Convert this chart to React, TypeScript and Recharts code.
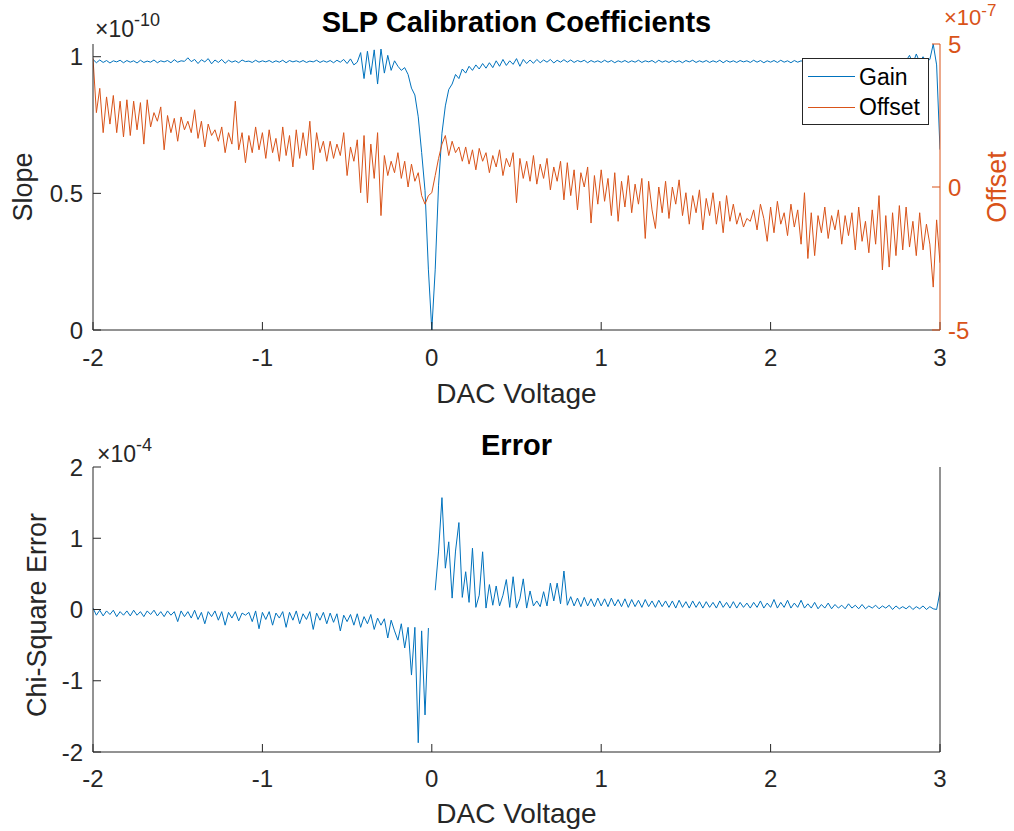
import React from 'react';
import { LineChart, Line, XAxis, YAxis } from 'recharts';

// DAC voltage sampling grid: -2 V to 3 V in 0.02 V steps (251 samples)
const VOLT_START = -2;
const VOLT_STEP = 0.02;

// Gain (slope), units of 1e-10
const gain = [
  0.99, 0.978, 0.988, 0.979, 0.986, 0.977, 0.985, 0.981, 0.987, 0.978,
  0.986, 0.98, 0.985, 0.977, 0.987, 0.979, 0.984, 0.98, 0.988, 0.978,
  0.985, 0.981, 0.986, 0.978, 0.989, 0.98, 0.985, 0.983, 0.996, 0.982,
  0.99, 0.975, 0.989, 0.981, 0.993, 0.974, 0.988, 0.979, 0.99, 0.976,
  0.987, 0.98, 0.985, 0.978, 0.988, 0.982, 0.984, 0.979, 0.987, 0.98,
  0.985, 0.981, 0.986, 0.979, 0.985, 0.98, 0.987, 0.978, 0.986, 0.981,
  0.985, 0.98, 0.986, 0.979, 0.984, 0.981, 0.987, 0.979, 0.985, 0.98,
  0.986, 0.978, 0.987, 0.98, 0.99, 0.975, 0.992, 0.97, 0.98, 1.015,
  0.92, 1.02, 0.935, 1.025, 0.9, 1.028, 0.94, 1.005, 0.95, 0.985,
  0.965, 0.95, 0.96, 0.935, 0.885, 0.86, 0.78, 0.65, 0.51, 0.22,
  0.0, 0.22, 0.53, 0.72, 0.82, 0.88, 0.9, 0.935, 0.92, 0.955,
  0.94, 0.965, 0.95, 0.97, 0.955, 0.975, 0.958, 0.978, 0.96, 0.985,
  0.965, 0.99, 0.968, 0.985, 0.972, 0.993, 0.965, 0.99, 0.975, 0.988,
  0.976, 0.99, 0.978, 0.988, 0.98, 0.99, 0.977, 0.987, 0.98, 0.989,
  0.98, 0.988, 0.979, 0.986, 0.981, 0.987, 0.978, 0.986, 0.98, 0.985,
  0.979, 0.987, 0.98, 0.986, 0.978, 0.985, 0.98, 0.986, 0.979, 0.985,
  0.98, 0.987, 0.979, 0.985, 0.981, 0.986, 0.978, 0.987, 0.98, 0.985,
  0.979, 0.986, 0.98, 0.985, 0.978, 0.986, 0.981, 0.987, 0.979, 0.985,
  0.98, 0.986, 0.979, 0.985, 0.98, 0.987, 0.978, 0.986, 0.98, 0.985,
  0.979, 0.986, 0.981, 0.985, 0.979, 0.987, 0.98, 0.986, 0.978, 0.985,
  0.98, 0.986, 0.979, 0.987, 0.98, 0.985, 0.978, 0.986, 0.98, 0.985,
  0.979, 0.986, 0.98, 0.985, 0.979, 0.987, 0.981, 0.986, 0.979, 0.985,
  0.98, 0.986, 0.978, 0.985, 0.98, 0.987, 0.979, 0.986, 0.98, 0.985,
  0.979, 0.987, 0.98, 0.986, 0.978, 0.985, 0.98, 0.987, 0.979, 0.99,
  0.985, 1.005, 0.975, 1.01, 0.98, 1.0, 0.982, 0.99, 1.046, 0.97, 0.66,
];

// Offset, units of 1e-7
const offset = [
  4.5, 2.6, 3.45, 1.9, 3.15, 2.2, 3.2, 1.9, 3.0, 1.75,
  3.05, 1.8, 3.0, 2.0, 2.95, 1.5, 3.05, 2.1, 2.6, 2.3,
  2.8, 1.3, 2.5, 1.9, 2.4, 1.6, 2.45, 2.0, 2.3, 1.9,
  2.7, 1.7, 2.3, 1.4, 2.2, 1.8, 2.0, 1.6, 2.1, 1.2,
  1.9, 1.5, 3.0, 1.3, 1.9, 0.85, 1.8, 1.2, 2.1, 1.3,
  1.9, 1.0, 2.0, 1.2, 1.7, 0.9, 2.1, 1.1, 1.8, 0.7,
  2.0, 1.0, 1.9, 1.1, 2.3, 0.6, 1.9, 1.2, 1.6, 0.9,
  1.6, 1.0, 1.5, 1.1, 1.9, 0.4, 1.4, 0.9, 1.65, -0.2,
  1.8, -0.55, 1.5, 0.3, 1.9, -1.0, 1.1, 0.4, 0.9, 0.5,
  1.2, 0.3, 0.9, 0.0, 0.8, 0.2, 0.5, -0.3, -0.6, -0.3,
  -0.2, 0.4, 1.0, 1.5, 1.8, 1.1, 1.6, 1.2, 1.4, 0.9,
  1.4, 0.8, 1.3, 0.6, 1.35, 0.9, 1.2, 0.5, 1.1, 0.7,
  1.3, 0.4, 1.0, 0.7, 1.2, -0.55, 1.0, 0.3, 0.9, 0.2,
  1.1, 0.1, 0.8, 0.3, 1.0, -0.1, 0.7, 0.2, 0.9, -0.45,
  0.85, -0.3, 0.6, -0.8, 0.5, 0.0, 0.7, -1.26, 0.4, -0.6,
  0.6, -0.5, 0.3, -1.0, 0.5, -1.2, 0.2, -0.7, 0.4, -0.9,
  0.1, -0.6, 0.3, -1.8, 0.2, -0.8, -1.45, 0.0, -0.9, 0.2,
  -1.1, 0.0, -0.6, 0.25, -1.0, -0.2, -1.3, -0.3, -0.9, -0.1,
  -1.5, -0.4, -1.0, -0.2, -1.3, -0.5, -1.6, -0.3, -1.2, -0.6,
  -1.3, -0.9, -1.4, -1.1, -1.2, -0.8, -1.5, -0.6, -1.1, -1.9,
  -0.7, -1.6, -0.5, -1.3, -0.9, -1.7, -0.6, -1.4, -0.8, -2.0,
  -0.2, -2.5, -0.9, -2.4, -1.0, -1.6, -0.7, -1.8, -1.0, -1.5,
  -0.8, -2.0, -1.0, -1.7, -0.9, -2.2, -0.7, -1.9, -1.2, -2.3,
  -0.8, -2.0, -0.3, -2.9, -1.0, -2.8, -0.9, -2.4, -0.65, -2.2,
  -0.7, -2.1, -1.2, -2.4, -0.9, -2.2, -1.3, -2.0, -3.5, -1.15, -2.65,
];

// Chi-square error, units of 1e-4 (no value at 0 V)
const chiError: (number | null)[] = [
  0.02, -0.08, -0.01, -0.09, -0.02, -0.07, -0.01, -0.1, -0.03, -0.08,
  -0.02, -0.09, -0.01, -0.08, -0.03, -0.1, -0.02, -0.07, -0.01, -0.09,
  -0.03, -0.1, -0.02, -0.08, -0.03, -0.17, -0.02, -0.1, -0.03, -0.12,
  -0.01, -0.14, -0.04, -0.2, -0.03, -0.1, -0.02, -0.15, -0.03, -0.22,
  -0.04, -0.12, -0.03, -0.16, -0.05, -0.08, -0.04, -0.17, -0.02, -0.27,
  -0.04, -0.14, -0.03, -0.22, -0.05, -0.12, -0.03, -0.25, -0.04, -0.15,
  -0.02, -0.2, -0.06, -0.14, -0.03, -0.28, -0.05, -0.15, -0.04, -0.2,
  -0.05, -0.18, -0.06, -0.3, -0.08, -0.17, -0.07, -0.22, -0.06, -0.25,
  -0.1, -0.2, -0.07, -0.28, -0.12, -0.22, -0.13, -0.4, -0.15, -0.3,
  -0.43, -0.2, -0.54, -0.25, -0.92, -0.25, -1.87, -0.3, -1.48, -0.26,
  null, 0.27, 0.82, 1.57, 0.58, 0.95, 0.16, 0.82, 1.22, 0.17,
  0.53, 0.1, 0.86, 0.03, 0.2, 0.81, 0.02, 0.35, 0.06, 0.33,
  0.05, 0.2, 0.42, 0.03, 0.46, 0.02, 0.15, 0.43, 0.02, 0.26,
  0.05, 0.12, 0.04, 0.25, 0.05, 0.37, 0.12, 0.37, 0.08, 0.54,
  0.06, 0.18, 0.05, 0.16, 0.04, 0.17, 0.05, 0.15, 0.04, 0.16,
  0.05, 0.15, 0.04, 0.16, 0.05, 0.14, 0.04, 0.15, 0.03, 0.14,
  0.04, 0.13, 0.03, 0.14, 0.04, 0.12, 0.03, 0.13, 0.04, 0.12,
  0.03, 0.12, 0.02, 0.13, 0.03, 0.11, 0.02, 0.12, 0.03, 0.11,
  0.02, 0.11, 0.03, 0.1, 0.02, 0.12, 0.03, 0.1, 0.02, 0.11,
  0.02, 0.1, 0.03, 0.09, 0.02, 0.1, 0.03, 0.12, 0.02, 0.09,
  0.03, 0.14, 0.02, 0.1, 0.03, 0.13, 0.02, 0.09, 0.03, 0.13,
  0.02, 0.08, 0.02, 0.1, 0.01, 0.07, 0.02, 0.09, 0.01, 0.07,
  0.02, 0.06, 0.01, 0.08, 0.02, 0.06, 0.01, 0.07, 0.01, 0.05,
  0.02, 0.06, 0.01, 0.05, 0.02, 0.06, 0.0, 0.05, 0.01, 0.04,
  0.01, 0.05, 0.0, 0.04, 0.01, 0.05, 0.0, 0.04, 0.01, 0.0, 0.25,
];

const xTicks = [-2, -1, 0, 1, 2, 3];
const gainTicks = [0, 0.5, 1];
const offsetTicks = [-5, 0, 5];
const errTicks = [-2, -1, 0, 1, 2];

const topData = gain.map((g, i) => ({
  v: Math.round((VOLT_START + i * VOLT_STEP) * 100) / 100,
  gain: g,
  offset: offset[i],
}));
const bottomData = chiError.map((e, i) => ({
  v: Math.round((VOLT_START + i * VOLT_STEP) * 100) / 100,
  err: e,
}));

const AX = '#262626';
const BLUE = '#0072BD';
const ORANGE = '#D95319';
const FONT = '"Liberation Sans", Arial, Helvetica, sans-serif';
const tickStyle = { fontSize: 24, fill: AX, fontFamily: FONT };

export default function App() {
  return (
    <div style={{ position: 'absolute', left: 0, top: 0, width: 1014, height: 831, background: '#fff', fontFamily: FONT }}>
      <div style={{ position: 'absolute', left: 0, top: 0 }}>
        <LineChart width={1014} height={415} data={topData} margin={{ top: 44, right: 24, bottom: 45, left: 33 }}>
          <XAxis xAxisId="b" dataKey="v" type="number" domain={[-2, 3]} ticks={xTicks} interval={0}
            orientation="bottom" height={40} stroke={AX} tickSize={-8} tickMargin={27} tick={tickStyle} allowDataOverflow />
          <XAxis xAxisId="t" dataKey="v" type="number" domain={[-2, 3]} ticks={xTicks} interval={0}
            orientation="top" height={0} stroke={AX} tickSize={-8} tick={false} allowDataOverflow />
          <YAxis yAxisId="L" orientation="left" type="number" domain={[0, 1.0465]} ticks={gainTicks} interval={0}
            width={60} stroke={AX} tickSize={-8} tickMargin={18} tick={tickStyle} allowDataOverflow />
          <YAxis yAxisId="R" orientation="right" type="number" domain={[-5, 5]} ticks={offsetTicks} interval={0}
            width={50} stroke={ORANGE} tickSize={-8} tickMargin={16} tick={{ ...tickStyle, fill: ORANGE }} allowDataOverflow />
          <Line xAxisId="b" yAxisId="L" name="Gain" dataKey="gain" type="linear" stroke={BLUE} strokeWidth={1}
            dot={false} activeDot={false} isAnimationActive={false} />
          <Line xAxisId="b" yAxisId="R" name="Offset" dataKey="offset" type="linear" stroke={ORANGE} strokeWidth={1}
            dot={false} activeDot={false} isAnimationActive={false} />
        </LineChart>
      </div>
      <div style={{ position: 'absolute', left: 0, top: 415 }}>
        <LineChart width={1014} height={416} data={bottomData} margin={{ top: 52, right: 24, bottom: 39, left: 33 }}>
          <XAxis xAxisId="b" dataKey="v" type="number" domain={[-2, 3]} ticks={xTicks} interval={0}
            orientation="bottom" height={40} stroke={AX} tickSize={-8} tickMargin={26} tick={tickStyle} allowDataOverflow />
          <XAxis xAxisId="t" dataKey="v" type="number" domain={[-2, 3]} ticks={xTicks} interval={0}
            orientation="top" height={0} stroke={AX} tickSize={-8} tick={false} allowDataOverflow />
          <YAxis yAxisId="L" orientation="left" type="number" domain={[-2, 2]} ticks={errTicks} interval={0}
            width={60} stroke={AX} tickSize={-8} tickMargin={18} tick={tickStyle} allowDataOverflow />
          <YAxis yAxisId="R" orientation="right" type="number" domain={[-2, 2]} ticks={errTicks} interval={0}
            width={50} stroke={AX} tickSize={-8} tick={false} allowDataOverflow />
          <Line xAxisId="b" yAxisId="L" name="Chi-Square Error" dataKey="err" type="linear" stroke={BLUE} strokeWidth={1}
            dot={false} activeDot={false} connectNulls={false} isAnimationActive={false} />
        </LineChart>
      </div>
      <svg width={1014} height={831} style={{ position: 'absolute', left: 0, top: 0, pointerEvents: 'none' }} fontFamily={FONT}>
        <text x={516.5} y={32} textAnchor="middle" fontWeight="bold" fontSize={29} fill="#000">SLP Calibration Coefficients</text>
        <text x={516.5} y={403} textAnchor="middle" fontSize={28} fill={AX}>DAC Voltage</text>
        <text transform="translate(32,187) rotate(-90)" textAnchor="middle" fontSize={27} fill={AX}>Slope</text>
        <text transform="translate(1006,187) rotate(-90)" textAnchor="middle" fontSize={27} fill={ORANGE}>Offset</text>
        <text x={95} y={37} fontSize={23} fill={AX}>×10<tspan dy={-11} fontSize={18}>-10</tspan></text>
        <text x={944} y={25} fontSize={22} fill={ORANGE}>×10<tspan dy={-9} fontSize={17}>-7</tspan></text>

        <text x={516.5} y={455} textAnchor="middle" fontWeight="bold" fontSize={29} fill="#000">Error</text>
        <text x={516.5} y={823} textAnchor="middle" fontSize={28} fill={AX}>DAC Voltage</text>
        <text transform="translate(46,615) rotate(-90)" textAnchor="middle" fontSize={27} fill={AX}>Chi-Square Error</text>
        <text x={97} y={462} fontSize={23} fill={AX}>×10<tspan dy={-11} fontSize={18}>-4</tspan></text>

        <rect x={802.5} y={58.5} width={126} height={66} fill="#fff" stroke={AX} strokeWidth={1} />
        <line x1={808} y1={76.5} x2={855} y2={76.5} stroke={BLUE} strokeWidth={1} />
        <line x1={808} y1={107.5} x2={855} y2={107.5} stroke={ORANGE} strokeWidth={1} />
        <text x={859} y={85} fontSize={23} fill="#000">Gain</text>
        <text x={859} y={115} fontSize={23} fill="#000">Offset</text>
      </svg>
    </div>
  );
}
